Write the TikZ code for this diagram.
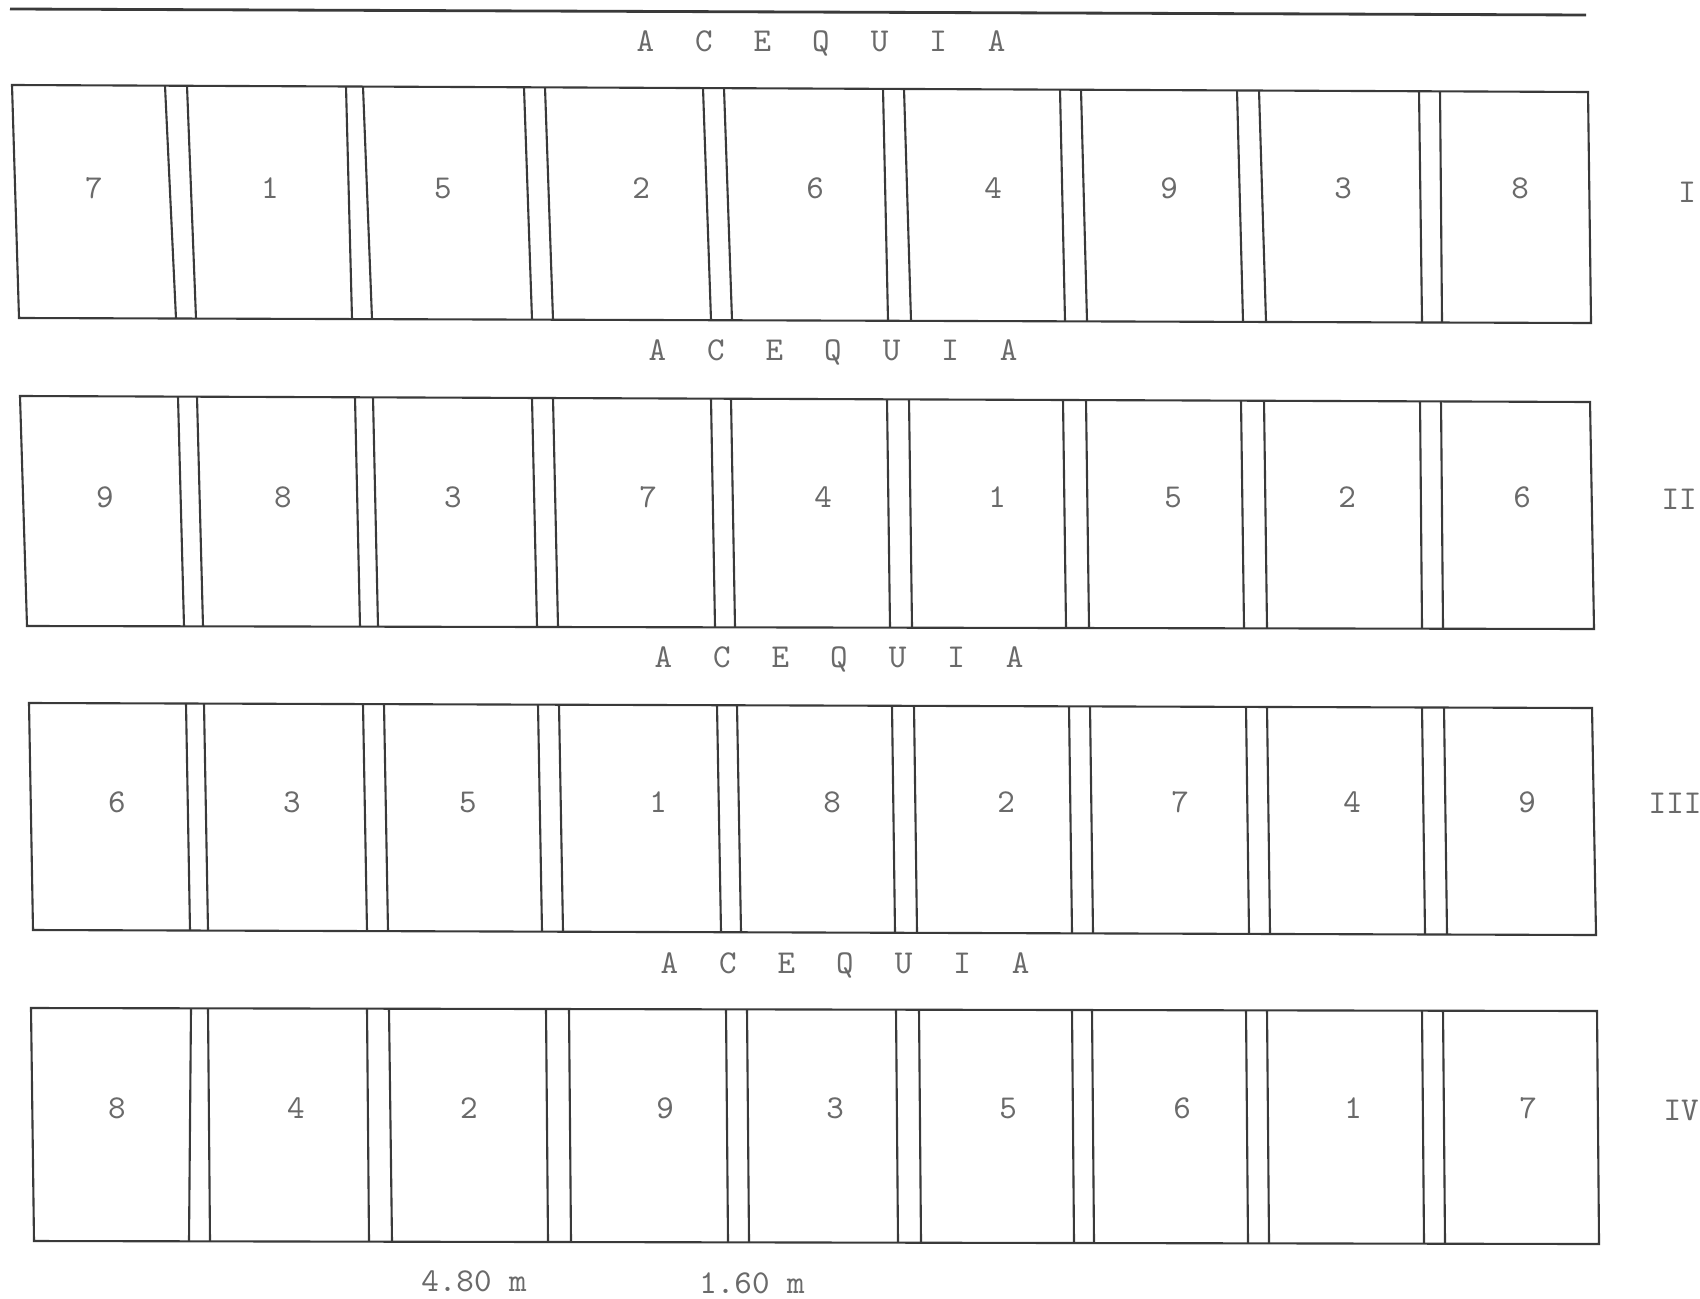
\documentclass[tikz,border=0pt]{standalone}
\usepackage{fontspec}
\definecolor{ink}{HTML}{3A3A3A}
\definecolor{txt}{HTML}{6A6A6A}
\tikzset{
  edge/.style={draw=ink, line width=0.6pt},
  num/.style={font=\fontsize{9.5}{11}\ttfamily, text=txt, inner sep=0pt, anchor=center},
  acq/.style={font=\fontsize{9.5}{11}\ttfamily, execute at begin node={\spaceskip=4.1mm\relax}, text=txt, inner sep=0pt, text depth=0pt, anchor=center}
}
\newcommand\plotblock[9]{%
  \draw[edge] (#1,#2) -- (#3,#4) -- (#5,#6) -- (#7,#8) -- cycle;
  \foreach \xt/\xb in {#9} {
    \pgfmathsetmacro\yt{#2+(#4-#2)*(\xt-#1)/(#3-#1)}
    \pgfmathsetmacro\yb{#8+(#6-#8)*(\xb-#7)/(#5-#7)}
    \draw[edge] (\xt,\yt) -- (\xb,\yb);
  }
}
\begin{document}
\begin{tikzpicture}[x=0.1mm,y=-0.1mm]
\useasboundingbox (0,0) rectangle (1700,1298);
\fill[white] (0,0) rectangle (1700,1298);

% top line
\coordinate (tl) at (10,9);
\coordinate (tr) at (1586,15);
\draw[edge, line width=0.8pt] (tl) -- (tr);

% canal labels
\node[acq] (acq1) at (821,41) {A C E Q U I A};
\node[acq] (acq2) at (833,350) {A C E Q U I A};
\node[acq] (acq3) at (839,657) {A C E Q U I A};
\node[acq] (acq4) at (845,963) {A C E Q U I A};

% block I
\plotblock{12}{85}{1588}{92}{1591}{323}{19}{318}{165/176,187/196,346/352,363/372,524/532,545/553,703/711,724/732,883/888,904/911,1060/1065,1081/1087,1237/1243,1259/1266,1419/1422,1440/1442}
% block II
\plotblock{20}{396}{1590}{402}{1594}{629}{27}{626}{178/184,197/203,355/360,373/378,532/537,553/558,711/715,731/735,887/890,909/912,1063/1066,1086/1089,1241/1244,1264/1267,1420/1422,1441/1443}
% block III
\plotblock{29}{703}{1592}{708}{1596}{935}{33}{930}{186/190,204/208,363/367,384/388,538/542,559/563,717/721,737/741,892/895,914/917,1069/1072,1090/1093,1246/1249,1267/1270,1422/1425,1444/1447}
% block IV
\plotblock{31}{1008}{1597}{1011}{1599}{1244}{34}{1241}{191/189,208/210,367/369,389/392,546/548,569/571,726/728,747/749,896/898,919/921,1072/1074,1092/1094,1246/1248,1267/1269,1422/1424,1443/1445}

% plot numbers
\foreach \x/\t [count=\i] in {94/7,270/1,443/5,641/2,815/6,993/4,1169/9,1343/3,1520/8}
  \node[num] (a\i) at (\x,188) {\t};
\foreach \x/\t [count=\i] in {105/9,283/8,453/3,648/7,823/4,997/1,1173/5,1347/2,1522/6}
  \node[num] (b\i) at (\x,497) {\t};
\foreach \x/\t [count=\i] in {117/6,292/3,468/5,658/1,832/8,1006/2,1180/7,1352/4,1527/9}
  \node[num] (c\i) at (\x,802) {\t};
\foreach \x/\t [count=\i] in {117/8,296/4,469/2,665/9,835/3,1008/5,1182/6,1353/1,1528/7}
  \node[num] (d\i) at (\x,1108) {\t};

% block numerals
\node[num] (r1) at (1687,192) {I};
\node[num] (r2) at (1679,499) {II};
\node[num] (r3) at (1675,803) {III};
\node[num] (r4) at (1681,1110) {IV};

% dimensions
\node[num] (d480) at (474,1281) {4.80 m};
\node[num] (d160) at (752,1283) {1.60 m};
\end{tikzpicture}
\end{document}
